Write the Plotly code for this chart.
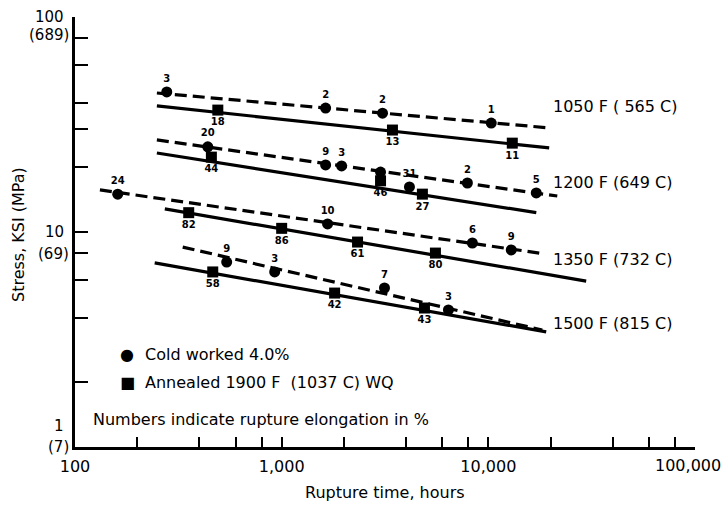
import math
import plotly.graph_objects as go

# ---------------- data ----------------
temp_labels = ["1050 F ( 565 C)", "1200 F (649 C)", "1350 F (732 C)", "1500 F (815 C)"]

# Cold worked 4.0 % (circles) : rupture time [h], stress [ksi], elongation label
cw_1050_t = [278, 1632, 3076, 10330]
cw_1050_s = [44.8, 37.7, 35.7, 32.1]
cw_1050_e = ["3", "2", "2", "1"]

cw_1200_t = [439, 1632, 1950, 3009, 4152, 7920, 17060]
cw_1200_s = [24.9, 20.5, 20.3, 19.0, 16.2, 16.9, 15.2]
cw_1200_e = ["20", "9", "3", "", "31", "2", "5"]

cw_1350_t = [161, 1668, 8370, 12910]
cw_1350_s = [15.0, 10.9, 8.89, 8.25]
cw_1350_e = ["24", "10", "6", "9"]

cw_1500_t = [542, 925, 3144, 6410]
cw_1500_s = [7.25, 6.52, 5.49, 4.34]
cw_1500_e = ["9", "3", "7", "3"]

# Annealed 1900 F (1037 C) WQ (squares)
an_1050_t = [491, 3436, 13060]
an_1050_s = [36.9, 29.8, 25.9]
an_1050_e = ["18", "13", "11"]

an_1200_t = [457, 3009, 4797]
an_1200_s = [22.3, 17.3, 15.0]
an_1200_e = ["44", "46", "27"]

an_1350_t = [355, 1000, 2329, 5546]
an_1350_s = [12.3, 10.4, 8.98, 7.98]
an_1350_e = ["82", "86", "61", "80"]

an_1500_t = [464, 1804, 4908]
an_1500_s = [6.52, 5.20, 4.43]
an_1500_e = ["58", "42", "43"]

# Trend lines (end points)
fit_cw_1050_t = [249, 19700];  fit_cw_1050_s = [44.3, 30.5]
fit_an_1050_t = [249, 19700];  fit_an_1050_s = [38.6, 24.6]
fit_cw_1200_t = [249, 21560];  fit_cw_1200_s = [26.8, 14.7]
fit_an_1200_t = [249, 17060];  fit_an_1200_s = [23.3, 12.3]
fit_cw_1350_t = [132, 17630];  fit_cw_1350_s = [15.7, 7.98]
fit_an_1350_t = [272, 29750];  fit_an_1350_s = [12.8, 5.91]
fit_cw_1500_t = [332, 18240];  fit_cw_1500_s = [8.51, 3.50]
fit_an_1500_t = [243, 19060];  fit_an_1500_s = [7.18, 3.43]

x_tickvals = [100, 200, 400, 600, 800, 1000, 2000, 4000, 6000, 8000,
              10000, 20000, 40000, 60000, 80000, 100000]
x_ticktext = ["100", "", "", "", "", "1,000", "", "", "", "",
              "10,000", "", "", "", "", ""]
x_last_label = "100,000"
y_tickvals = [1, 2, 4, 6, 8, 10, 20, 30, 40, 60, 80, 100]
y_major = [100, 10, 1]
y_major_ksi = ["100", "10", "1"]
y_major_mpa = ["(689)", "(69)", "(7)"]

# ---------------- figure ----------------
FONT = "DejaVu Sans"
fig = go.Figure()

cw_sets = [(cw_1050_t, cw_1050_s, cw_1050_e), (cw_1200_t, cw_1200_s, cw_1200_e),
           (cw_1350_t, cw_1350_s, cw_1350_e), (cw_1500_t, cw_1500_s, cw_1500_e)]
an_sets = [(an_1050_t, an_1050_s, an_1050_e), (an_1200_t, an_1200_s, an_1200_e),
           (an_1350_t, an_1350_s, an_1350_e), (an_1500_t, an_1500_s, an_1500_e)]
cw_fits = [(fit_cw_1050_t, fit_cw_1050_s), (fit_cw_1200_t, fit_cw_1200_s),
           (fit_cw_1350_t, fit_cw_1350_s), (fit_cw_1500_t, fit_cw_1500_s)]
an_fits = [(fit_an_1050_t, fit_an_1050_s), (fit_an_1200_t, fit_an_1200_s),
           (fit_an_1350_t, fit_an_1350_s), (fit_an_1500_t, fit_an_1500_s)]

for (ft, fs) in cw_fits:
    fig.add_trace(go.Scatter(x=ft, y=fs, mode="lines", showlegend=False,
                             line=dict(color="black", width=3.2, dash="12px,6px")))
for (ft, fs) in an_fits:
    fig.add_trace(go.Scatter(x=ft, y=fs, mode="lines", showlegend=False,
                             line=dict(color="black", width=3.2)))

for (t, s, e) in cw_sets:
    fig.add_trace(go.Scatter(x=t, y=s, text=e, mode="markers+text", showlegend=False,
                             textposition="top center",
                             textfont=dict(family=FONT, size=10, color="black", weight="bold"),
                             marker=dict(symbol="circle", size=11, color="black")))
for (t, s, e) in an_sets:
    fig.add_trace(go.Scatter(x=t, y=s, text=e, mode="markers+text", showlegend=False,
                             textposition="bottom center",
                             textfont=dict(family=FONT, size=10, color="black", weight="bold"),
                             marker=dict(symbol="square", size=11, color="black")))

TXT = dict(family=FONT, size=16, color="black")
TICK = dict(family=FONT, size=15, color="black")
annotations = []
# temperature labels at right
for lab, yp in zip(temp_labels, [0.791, 0.614, 0.435, 0.288]):
    annotations.append(dict(x=0.767, y=yp, xref="paper", yref="paper", text=lab,
                            showarrow=False, xanchor="left", yanchor="middle", font=TXT))
# y major tick labels (ksi and MPa)
for v, k, m, ks, ms in zip(y_major, y_major_ksi, y_major_mpa, [0, 0, 21], [-18, -22, 0]):
    annotations.append(dict(x=-0.015, y=math.log10(v), xref="paper", yref="y", text=k,
                            showarrow=False, xanchor="right", yanchor="middle", yshift=ks,
                            font=TICK))
    annotations.append(dict(x=-0.006, y=math.log10(v), xref="paper", yref="y", text=m,
                            showarrow=False, xanchor="right", yanchor="middle", yshift=ms,
                            font=TICK))
# last x tick label, kept inside the page
annotations.append(dict(x=(723 - 75) / 620, y=(447 - 465) / 430, xref="paper", yref="paper",
                        text=x_last_label, showarrow=False, xanchor="right", yanchor="middle",
                        font=TXT))
# axis titles
annotations.append(dict(x=(385 - 75) / 620, y=(447 - 492) / 430, xref="paper", yref="paper",
                        text="Rupture time, hours", showarrow=False,
                        xanchor="center", yanchor="middle", font=TXT))
annotations.append(dict(x=(19 - 75) / 620, y=(447 - 235) / 430, xref="paper", yref="paper",
                        text="Stress, KSI (MPa)", textangle=-90, showarrow=False,
                        xanchor="center", yanchor="middle", font=TXT))
# legend
annotations.append(dict(x=0.084, y=0.214, xref="paper", yref="paper", text="●",
                        showarrow=False, xanchor="center", yanchor="middle",
                        font=dict(family=FONT, size=16, color="black")))
annotations.append(dict(x=0.110, y=0.214, xref="paper", yref="paper", text="Cold worked 4.0%",
                        showarrow=False, xanchor="left", yanchor="middle", font=TXT))
annotations.append(dict(x=0.084, y=0.151, xref="paper", yref="paper", text="■",
                        showarrow=False, xanchor="center", yanchor="middle",
                        font=dict(family=FONT, size=16, color="black")))
annotations.append(dict(x=0.110, y=0.151, xref="paper", yref="paper",
                        text="Annealed 1900 F  (1037 C) WQ",
                        showarrow=False, xanchor="left", yanchor="middle", font=TXT))
annotations.append(dict(x=0.025, y=0.063, xref="paper", yref="paper",
                        text="Numbers indicate rupture elongation in %",
                        showarrow=False, xanchor="left", yanchor="middle", font=TXT))

fig.update_layout(
    width=725, height=506,
    margin=dict(l=75, r=30, t=17, b=59, autoexpand=False),
    paper_bgcolor="white", plot_bgcolor="white",
    showlegend=False,
    annotations=annotations,
    xaxis=dict(type="log", range=[2, 5], showgrid=False, zeroline=False,
               showline=True, linecolor="black", linewidth=2.5, automargin=False,
               tickmode="array", tickvals=x_tickvals, ticktext=x_ticktext,
               ticks="inside", ticklen=10, tickwidth=1.8, tickcolor="black",
               ticklabelstandoff=3, ticklabeloverflow="allow",
               tickfont=TXT),
    yaxis=dict(type="log", range=[0, 2], showgrid=False, zeroline=False,
               showline=True, linecolor="black", linewidth=2.5, automargin=False,
               tickmode="array", tickvals=y_tickvals, showticklabels=False,
               ticks="inside", ticklen=13, tickwidth=2, tickcolor="black"),
)

fig.write_html("out.html")
